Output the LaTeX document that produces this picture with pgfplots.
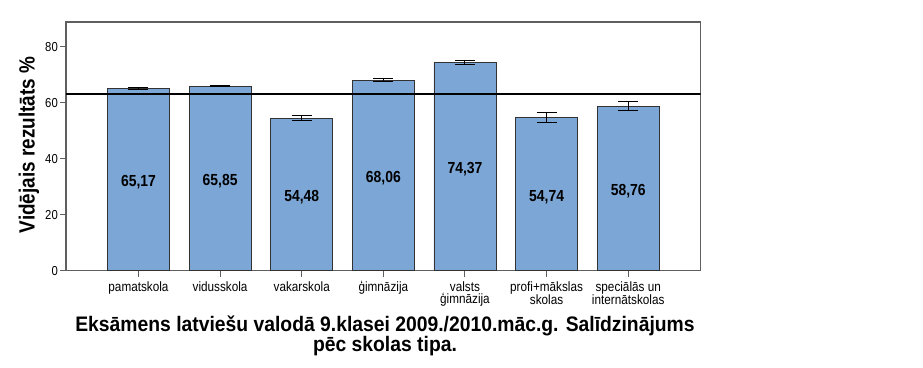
\documentclass[border=0pt]{standalone}
\usepackage{fontspec}
\setmainfont{Liberation Sans}
\newfontfamily\cf[FakeStretch=0.87]{Liberation Sans}
\newfontfamily\yf[FakeStretch=0.86]{Liberation Sans}
\newfontfamily\tf[FakeStretch=0.92]{Liberation Sans}
\usepackage{pgfplots}
\usepackage{pgfplotstable}
\pgfplotsset{compat=1.18}
\definecolor{barfill}{RGB}{123,166,213}
\definecolor{barline}{RGB}{50,50,50}
\definecolor{axgray}{RGB}{95,95,95}
\pgfplotstableread{
x y err lab
0 65.17 0.3 65,17
1 65.85 0.2 65,85
2 54.48 0.8 54,48
3 68.06 0.65 68,06
4 74.37 0.65 74,37
5 54.74 1.9 54,74
6 58.76 1.55 58,76
}\datatable
\begin{document}
\begin{tikzpicture}[x=1pt,y=1pt]
\useasboundingbox (0,0) rectangle (923,367);
\begin{axis}[
  at={(66pt,96.3pt)}, anchor=south west,
  scale only axis, width=634.7pt, height=248.7pt,
  xmin=-0.888, xmax=6.888, ymin=0, ymax=88.8,
  ytick={0,20,40,60,80},
  xtick={0,...,6},
  xticklabels={pamatskola, vidusskola, vakarskola, ģimnāzija, {valsts\\ģimnāzija}, {profi+mākslas\\skolas}, {speciālās un\\internātskolas}},
  xticklabel style={align=center, font=\cf\fontsize{13.5}{12.5}\selectfont, inner sep=2pt, yshift=-2.5pt},
  yticklabel style={font=\cf\fontsize{13}{13}\selectfont, inner sep=2pt},
  /pgf/number format/assume math mode=true,
  tick align=outside, xtick pos=bottom, ytick pos=left,
  major tick length=6pt,
  tick style={axgray, line width=1pt},
  axis line style={axgray, line width=1.3pt},
]
\addplot[ybar, bar width=62pt, fill=barfill, draw=barline, line width=0.9pt,
  error bars/.cd, y dir=both, y explicit,
  error bar style={black, line width=1pt},
  error mark options={rotate=90, mark size=10pt, black, line width=1pt}]
  table[x=x, y=y, y error=err]{\datatable};
\addplot[black, line width=1.3pt, forget plot] coordinates {(-0.888,63.1) (6.888,63.1)};
\addplot[only marks, mark=none, nodes near coords, point meta=explicit symbolic,
  nodes near coords style={anchor=center, yshift=-3pt, font=\cf\fontsize{16}{16}\selectfont\bfseries}]
  table[x=x, y expr=\thisrow{y}/2, meta=lab]{\datatable};
\end{axis}
\node[rotate=90, font=\yf\fontsize{22}{22}\selectfont\bfseries] at (29,222) {Vidējais rezultāts \%};
\node[align=center, font=\tf\fontsize{21}{19}\selectfont\bfseries] at (385,31) {Eksāmens latviešu valodā 9.klasei 2009./2010.māc.g. Salīdzinājums\\pēc skolas tipa.};
\end{tikzpicture}
\end{document}
